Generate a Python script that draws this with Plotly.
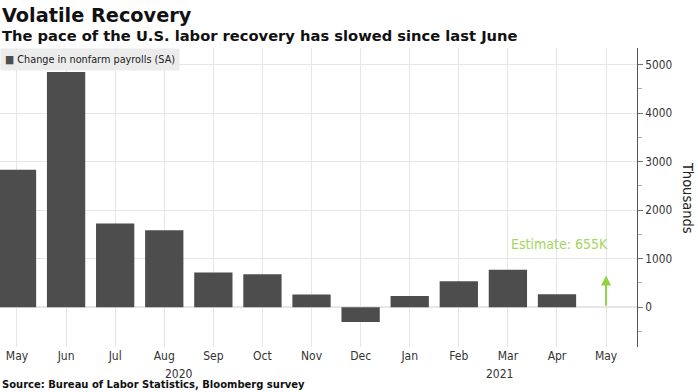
import plotly.graph_objects as go

months = ["May", "Jun", "Jul", "Aug", "Sep", "Oct", "Nov", "Dec", "Jan", "Feb", "Mar", "Apr", "May"]
payrolls = [2833, 4846, 1726, 1583, 716, 680, 264, -306, 233, 536, 770, 266, None]
estimate_value = 655
year_labels = ["2020", "2021"]

xs = list(range(len(months)))
FONT = "DejaVu Sans Condensed, DejaVu Sans, sans-serif"

fig = go.Figure()
fig.add_trace(go.Bar(
    x=xs, y=payrolls, name="Change in nonfarm payrolls (SA)",
    marker=dict(color="#4d4d4d", line=dict(width=0)), showlegend=False,
))

fig.add_annotation(
    x=12, y=estimate_value, ax=12, ay=0, xref="x", yref="y", axref="x", ayref="y",
    showarrow=True, arrowhead=2, arrowsize=1, arrowwidth=2, arrowcolor="#8fd13f", text="",
)
fig.add_annotation(
    x=12, y=estimate_value + 650, xref="x", yref="y", text="Estimate: 655K",
    showarrow=False, xanchor="right", xshift=4, font=dict(family=FONT, size=14, color="#a3d65e"),
)

fig.add_annotation(x=3.3, y=-0.087, xref="x", yref="paper", yanchor="middle", text=year_labels[0],
                   showarrow=False, yshift=-1, font=dict(family=FONT, size=12, color="#333"))
fig.add_annotation(x=9.82, y=-0.087, xref="x", yref="paper", yanchor="middle", text=year_labels[1],
                   showarrow=False, yshift=-1, font=dict(family=FONT, size=12, color="#333"))

fig.add_annotation(x=1.081, y=0.5, xref="paper", yref="paper", xanchor="center", yanchor="middle",
                   text="Thousands", showarrow=False,
                   textangle=90, font=dict(family=FONT, size=14.5, color="#222"))

# legend-style label
fig.add_annotation(x=0, y=1, xref="paper", yref="paper", xanchor="left", yanchor="top",
                   text="<span style='color:#4d4d4d'>■</span> Change in nonfarm payrolls (SA)",
                   showarrow=False, bgcolor="#ececec", borderpad=4,
                   font=dict(family=FONT, size=10.8, color="#222"))

# titles
fig.add_annotation(x=0, y=1.0, xref="paper", yref="paper", xanchor="left", yanchor="middle",
                   yshift=33, text="<b>Volatile Recovery</b>", showarrow=False,
                   font=dict(family="DejaVu Sans, sans-serif", size=19.3, color="#111"))
fig.add_annotation(x=0, y=1.0, xref="paper", yref="paper", xanchor="left", yanchor="middle",
                   yshift=13, text="<b>The pace of the U.S. labor recovery has slowed since last June</b>",
                   showarrow=False, font=dict(family="DejaVu Sans, sans-serif", size=14.7, color="#111"))

fig.add_annotation(x=0, y=-0.123, xref="paper", yref="paper", yanchor="middle", xanchor="left",
                   yshift=-1, text="<b>Source: Bureau of Labor Statistics, Bloomberg survey</b>", showarrow=False,
                   font=dict(family=FONT, size=11.1, color="#111"))

fig.update_layout(
    width=698, height=392,
    margin=dict(l=0, r=61, t=48, b=45, autoexpand=False),
    paper_bgcolor="white", plot_bgcolor="white",
    bargap=0.22,
    font=dict(family=FONT, color="#333"),
    showlegend=False,
    xaxis=dict(
        tickmode="array", tickvals=xs, ticktext=months, range=[-0.346, 12.63],
        showgrid=True, gridcolor="#e6e6e6", zeroline=False, ticks="",
        tickfont=dict(family=FONT, size=12, color="#333"), fixedrange=True, automargin=False,
    ),
    yaxis=dict(
        side="right", range=[-820, 5340], tickvals=[0, 1000, 2000, 3000, 4000, 5000],
        showgrid=True, gridcolor="#e6e6e6", zeroline=True, zerolinecolor="#e6e6e6",
        showline=True, linecolor="#555", linewidth=1, ticks="outside", ticklen=5,
        tickcolor="#777", automargin=False,
        minor=dict(dtick=500, tick0=0, ticks="outside", ticklen=4, tickcolor="#aaa", showgrid=False),
        tickfont=dict(family=FONT, size=11.7, color="#333"),
    ),
)

fig.write_html("out.html", config={"displayModeBar": False},
               post_script="document.body.style.margin='0';document.body.style.overflow='hidden';")
